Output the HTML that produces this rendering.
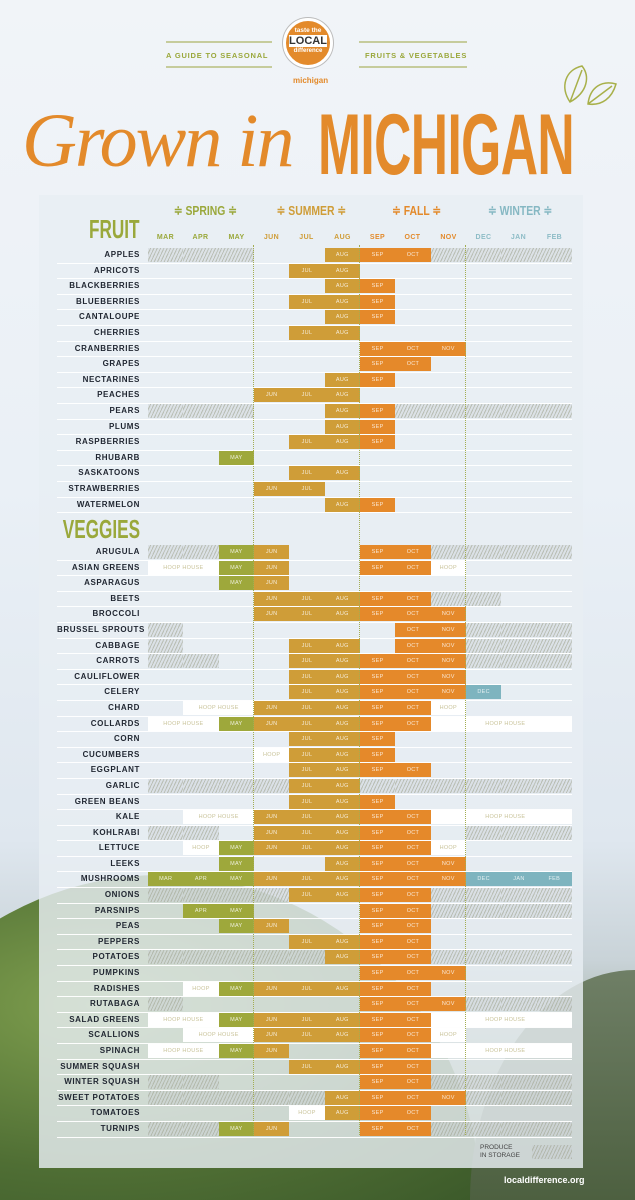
<!DOCTYPE html>
<html><head><meta charset="utf-8">
<style>
*{margin:0;padding:0;box-sizing:border-box}
html,body{width:635px;height:1200px;overflow:hidden}
#w{width:635px;height:1200px;overflow:hidden;position:relative;font-family:"Liberation Sans",sans-serif;
background:linear-gradient(180deg,#f1f4f8 0%,#eaf0f6 40%,#dfe7ef 70%,#c9d3d8 80%,#95a590 90%,#5f7a4f 100%);}
.leaf{position:absolute;left:-160px;top:875px;width:640px;height:325px;border-radius:50% 50% 0 0/100% 100% 0 0;background:radial-gradient(ellipse at 40% 40%,#7f9f4e,#4f6e34 60%,#3c5a2a);}
.hill{position:absolute;left:470px;top:970px;width:165px;height:230px;border-radius:100% 0 0 0;background:linear-gradient(#6f7f66,#4d6040);}
.panel{position:absolute;left:39px;top:195px;width:544px;height:973px;background:rgba(232,238,243,.82);}
.top{position:absolute;color:#9aa83b;font-weight:bold;font-size:7.5px;letter-spacing:.8px}
.hl{position:absolute;height:2px;background:#c6cc9c}
.logo{position:absolute;left:283px;top:18px;width:50px;height:50px;border-radius:50%;background:#e38a2b;border:3px solid #fff;box-shadow:0 0 0 1px #bbb;text-align:center;color:#fff;font-weight:bold}
.title1{position:absolute;left:22px;top:98px;font-family:"Liberation Serif",serif;font-style:italic;font-size:76px;color:#e38a2b;letter-spacing:-2px}
.title2{position:absolute;left:318px;top:102px;font-size:86px;font-weight:bold;color:#e38a2b;transform:scaleX(.6);transform-origin:left top;letter-spacing:-1px;line-height:1}
.sea{position:absolute;top:203px;font-weight:bold;font-size:13px;transform:scaleX(.8);transform-origin:center}
.mon{position:absolute;top:234px;font-weight:bold;font-size:7px;width:35px;text-align:center;letter-spacing:.4px}
.big{position:absolute;font-weight:bold;color:#9aa83b;font-size:26px;transform:scaleX(.66);transform-origin:right top;text-align:right}
.sec{position:absolute;left:57px;width:515px}
.r{display:grid;grid-template-columns:91px repeat(12,35.33px);grid-template-rows:14px;overflow:hidden;border-bottom:1.6px solid rgba(255,255,255,.95);height:15.6px;max-height:15.6px}
.r b{font-size:8px;color:#1f2530;text-align:right;padding-right:8px;letter-spacing:.6px;line-height:14px;white-space:nowrap}
.r i{font-style:normal;font-size:5.5px;color:rgba(255,255,255,.8);text-align:center;line-height:14px;letter-spacing:.3px;white-space:nowrap;overflow:hidden}
.p{background:#9ea83b}.u{background:#cf9d38}.f{background:#e5892a}.w{background:#7eb4bf}
.h{background:#fff;color:#c9c39a!important}
.hw{padding-right:28px}
.s{background:repeating-linear-gradient(115deg,rgba(200,205,210,.4) 0 2px,rgba(170,175,160,.75) 2px 3px)}
.dl{position:absolute;top:245px;height:890px;border-left:1.5px dotted #a3ad52}
</style></head><body><div id="w">
<div class="leaf"></div><div class="hill"></div>
<div class="panel"></div>

<div class="hl" style="left:166px;top:41px;width:106px"></div>
<div class="hl" style="left:166px;top:66px;width:106px"></div>
<div class="hl" style="left:359px;top:41px;width:108px"></div>
<div class="hl" style="left:359px;top:66px;width:108px"></div>
<div class="top" style="left:166px;top:51px">A GUIDE TO SEASONAL</div>
<div class="top" style="left:365px;top:51px">FRUITS &amp; VEGETABLES</div>
<div class="logo"><div style="font-size:6.5px;margin-top:6px">taste the</div><div style="font-size:11px;background:#fff;color:#333;margin:1px 3px">LOCAL</div><div style="font-size:6px">difference</div></div>
<div style="position:absolute;left:293px;top:76px;font-size:8px;font-weight:bold;color:#e38a2b">michigan</div>
<svg style="position:absolute;left:560px;top:62px" width="60" height="50" viewBox="0 0 60 50"><path d="M10 40 C0 25 5 8 22 4 C30 14 28 30 10 40Z M10 40 L22 8 M28 42 C30 25 42 18 56 22 C52 36 42 44 28 42Z M28 42 L52 24" fill="none" stroke="#a8b04a" stroke-width="1.5"/></svg>
<div class="title1">Grown in</div>
<div class="title2">MICHIGAN</div>

<div class="sea" style="left:166px;color:#9aa83b">≑ SPRING ≑</div>
<div class="sea" style="left:268px;color:#cf9d38">≑ SUMMER ≑</div>
<div class="sea" style="left:386px;color:#e38a2b">≑ FALL ≑</div>
<div class="sea" style="left:480px;color:#86b8c3">≑ WINTER ≑</div>
<div class="big" style="right:495px;top:214px">FRUIT</div>
<div class="big" style="right:495px;top:514px">VEGGIES</div>
<div class="mon" style="left:148px;color:#9aa83b">MAR</div><div class="mon" style="left:183px;color:#9aa83b">APR</div><div class="mon" style="left:219px;color:#9aa83b">MAY</div>
<div class="mon" style="left:254px;color:#cf9d38">JUN</div><div class="mon" style="left:289px;color:#cf9d38">JUL</div><div class="mon" style="left:325px;color:#cf9d38">AUG</div>
<div class="mon" style="left:360px;color:#e38a2b">SEP</div><div class="mon" style="left:395px;color:#e38a2b">OCT</div><div class="mon" style="left:431px;color:#e38a2b">NOV</div>
<div class="mon" style="left:466px;color:#8dbcc6">DEC</div><div class="mon" style="left:501px;color:#8dbcc6">JAN</div><div class="mon" style="left:537px;color:#8dbcc6">FEB</div>

<div class="sec" id="fr" style="top:248px">
<div class="r"><b>APPLES</b><i class=s></i><i class=s></i><i class=s></i><i></i><i></i><i class=u>AUG</i><i class=f>SEP</i><i class=f>OCT</i><i class=s></i><i class=s></i><i class=s></i><i class=s></i></div>
<div class="r"><b>APRICOTS</b><i></i><i></i><i></i><i></i><i class=u>JUL</i><i class=u>AUG</i></div>
<div class="r"><b>BLACKBERRIES</b><i></i><i></i><i></i><i></i><i></i><i class=u>AUG</i><i class=f>SEP</i></div>
<div class="r"><b>BLUEBERRIES</b><i></i><i></i><i></i><i></i><i class=u>JUL</i><i class=u>AUG</i><i class=f>SEP</i></div>
<div class="r"><b>CANTALOUPE</b><i></i><i></i><i></i><i></i><i></i><i class=u>AUG</i><i class=f>SEP</i></div>
<div class="r"><b>CHERRIES</b><i></i><i></i><i></i><i></i><i class=u>JUL</i><i class=u>AUG</i></div>
<div class="r"><b>CRANBERRIES</b><i></i><i></i><i></i><i></i><i></i><i></i><i class=f>SEP</i><i class=f>OCT</i><i class=f>NOV</i></div>
<div class="r"><b>GRAPES</b><i></i><i></i><i></i><i></i><i></i><i></i><i class=f>SEP</i><i class=f>OCT</i></div>
<div class="r"><b>NECTARINES</b><i></i><i></i><i></i><i></i><i></i><i class=u>AUG</i><i class=f>SEP</i></div>
<div class="r"><b>PEACHES</b><i></i><i></i><i></i><i class=u>JUN</i><i class=u>JUL</i><i class=u>AUG</i></div>
<div class="r"><b>PEARS</b><i class=s></i><i class=s></i><i class=s></i><i></i><i></i><i class=u>AUG</i><i class=f>SEP</i><i class=s></i><i class=s></i><i class=s></i><i class=s></i><i class=s></i></div>
<div class="r"><b>PLUMS</b><i></i><i></i><i></i><i></i><i></i><i class=u>AUG</i><i class=f>SEP</i></div>
<div class="r"><b>RASPBERRIES</b><i></i><i></i><i></i><i></i><i class=u>JUL</i><i class=u>AUG</i><i class=f>SEP</i></div>
<div class="r"><b>RHUBARB</b><i></i><i></i><i class=p>MAY</i></div>
<div class="r"><b>SASKATOONS</b><i></i><i></i><i></i><i></i><i class=u>JUL</i><i class=u>AUG</i></div>
<div class="r"><b>STRAWBERRIES</b><i></i><i></i><i></i><i class=u>JUN</i><i class=u>JUL</i></div>
<div class="r"><b>WATERMELON</b><i></i><i></i><i></i><i></i><i></i><i class=u>AUG</i><i class=f>SEP</i></div>
</div>

<div class="sec" id="vg" style="top:545px">
<div class="r"><b>ARUGULA</b><i class=s></i><i class=s></i><i class=p>MAY</i><i class=u>JUN</i><i></i><i></i><i class=f>SEP</i><i class=f>OCT</i><i class=s></i><i class=s></i><i class=s></i><i class=s></i></div>
<div class="r"><b>ASIAN GREENS</b><i class=h style="grid-column:span 2">HOOP HOUSE</i><i class=p>MAY</i><i class=u>JUN</i><i></i><i></i><i class=f>SEP</i><i class=f>OCT</i><i class=h>HOOP</i></div>
<div class="r"><b>ASPARAGUS</b><i></i><i></i><i class=p>MAY</i><i class=u>JUN</i></div>
<div class="r"><b>BEETS</b><i></i><i></i><i></i><i class=u>JUN</i><i class=u>JUL</i><i class=u>AUG</i><i class=f>SEP</i><i class=f>OCT</i><i class=s></i><i class=s></i></div>
<div class="r"><b>BROCCOLI</b><i></i><i></i><i></i><i class=u>JUN</i><i class=u>JUL</i><i class=u>AUG</i><i class=f>SEP</i><i class=f>OCT</i><i class=f>NOV</i></div>
<div class="r"><b>BRUSSEL SPROUTS</b><i class=s></i><i></i><i></i><i></i><i></i><i></i><i></i><i class=f>OCT</i><i class=f>NOV</i><i class=s></i><i class=s></i><i class=s></i></div>
<div class="r"><b>CABBAGE</b><i class=s></i><i></i><i></i><i></i><i class=u>JUL</i><i class=u>AUG</i><i></i><i class=f>OCT</i><i class=f>NOV</i><i class=s></i><i class=s></i><i class=s></i></div>
<div class="r"><b>CARROTS</b><i class=s></i><i class=s></i><i></i><i></i><i class=u>JUL</i><i class=u>AUG</i><i class=f>SEP</i><i class=f>OCT</i><i class=f>NOV</i><i class=s></i><i class=s></i><i class=s></i></div>
<div class="r"><b>CAULIFLOWER</b><i></i><i></i><i></i><i></i><i class=u>JUL</i><i class=u>AUG</i><i class=f>SEP</i><i class=f>OCT</i><i class=f>NOV</i></div>
<div class="r"><b>CELERY</b><i></i><i></i><i></i><i></i><i class=u>JUL</i><i class=u>AUG</i><i class=f>SEP</i><i class=f>OCT</i><i class=f>NOV</i><i class=w>DEC</i></div>
<div class="r"><b>CHARD</b><i></i><i class=h style="grid-column:span 2">HOOP HOUSE</i><i class=u>JUN</i><i class=u>JUL</i><i class=u>AUG</i><i class=f>SEP</i><i class=f>OCT</i><i class=h>HOOP</i></div>
<div class="r"><b>COLLARDS</b><i class=h style="grid-column:span 2">HOOP HOUSE</i><i class=p>MAY</i><i class=u>JUN</i><i class=u>JUL</i><i class=u>AUG</i><i class=f>SEP</i><i class=f>OCT</i><i class="h hw" style="grid-column:span 4;padding-left:36px">HOOP HOUSE</i></div>
<div class="r"><b>CORN</b><i></i><i></i><i></i><i></i><i class=u>JUL</i><i class=u>AUG</i><i class=f>SEP</i></div>
<div class="r"><b>CUCUMBERS</b><i></i><i></i><i></i><i class=h>HOOP</i><i class=u>JUL</i><i class=u>AUG</i><i class=f>SEP</i></div>
<div class="r"><b>EGGPLANT</b><i></i><i></i><i></i><i></i><i class=u>JUL</i><i class=u>AUG</i><i class=f>SEP</i><i class=f>OCT</i></div>
<div class="r"><b>GARLIC</b><i class=s></i><i class=s></i><i class=s></i><i class=s></i><i class=u>JUL</i><i class=u>AUG</i><i class=s></i><i class=s></i><i class=s></i><i class=s></i><i class=s></i><i class=s></i></div>
<div class="r"><b>GREEN BEANS</b><i></i><i></i><i></i><i></i><i class=u>JUL</i><i class=u>AUG</i><i class=f>SEP</i></div>
<div class="r"><b>KALE</b><i></i><i class=h style="grid-column:span 2">HOOP HOUSE</i><i class=u>JUN</i><i class=u>JUL</i><i class=u>AUG</i><i class=f>SEP</i><i class=f>OCT</i><i class="h hw" style="grid-column:span 4;padding-left:36px">HOOP HOUSE</i></div>
<div class="r"><b>KOHLRABI</b><i class=s></i><i class=s></i><i></i><i class=u>JUN</i><i class=u>JUL</i><i class=u>AUG</i><i class=f>SEP</i><i class=f>OCT</i><i></i><i class=s></i><i class=s></i><i class=s></i></div>
<div class="r"><b>LETTUCE</b><i></i><i class=h>HOOP</i><i class=p>MAY</i><i class=u>JUN</i><i class=u>JUL</i><i class=u>AUG</i><i class=f>SEP</i><i class=f>OCT</i><i class=h>HOOP</i></div>
<div class="r"><b>LEEKS</b><i></i><i></i><i class=p>MAY</i><i></i><i></i><i class=u>AUG</i><i class=f>SEP</i><i class=f>OCT</i><i class=f>NOV</i></div>
<div class="r"><b>MUSHROOMS</b><i class=p>MAR</i><i class=p>APR</i><i class=p>MAY</i><i class=u>JUN</i><i class=u>JUL</i><i class=u>AUG</i><i class=f>SEP</i><i class=f>OCT</i><i class=f>NOV</i><i class=w>DEC</i><i class=w>JAN</i><i class=w>FEB</i></div>
<div class="r"><b>ONIONS</b><i class=s></i><i class=s></i><i class=s></i><i class=s></i><i class=u>JUL</i><i class=u>AUG</i><i class=f>SEP</i><i class=f>OCT</i><i class=s></i><i class=s></i><i class=s></i><i class=s></i></div>
<div class="r"><b>PARSNIPS</b><i></i><i class=p>APR</i><i class=p>MAY</i><i></i><i></i><i></i><i class=f>SEP</i><i class=f>OCT</i><i class=s></i><i class=s></i><i class=s></i><i class=s></i></div>
<div class="r"><b>PEAS</b><i></i><i></i><i class=p>MAY</i><i class=u>JUN</i><i></i><i></i><i class=f>SEP</i><i class=f>OCT</i></div>
<div class="r"><b>PEPPERS</b><i></i><i></i><i></i><i></i><i class=u>JUL</i><i class=u>AUG</i><i class=f>SEP</i><i class=f>OCT</i></div>
<div class="r"><b>POTATOES</b><i class=s></i><i class=s></i><i class=s></i><i class=s></i><i class=s></i><i class=u>AUG</i><i class=f>SEP</i><i class=f>OCT</i><i class=s></i><i class=s></i><i class=s></i><i class=s></i></div>
<div class="r"><b>PUMPKINS</b><i></i><i></i><i></i><i></i><i></i><i></i><i class=f>SEP</i><i class=f>OCT</i><i class=f>NOV</i></div>
<div class="r"><b>RADISHES</b><i></i><i class=h>HOOP</i><i class=p>MAY</i><i class=u>JUN</i><i class=u>JUL</i><i class=u>AUG</i><i class=f>SEP</i><i class=f>OCT</i></div>
<div class="r"><b>RUTABAGA</b><i class=s></i><i></i><i></i><i></i><i></i><i></i><i class=f>SEP</i><i class=f>OCT</i><i class=f>NOV</i><i class=s></i><i class=s></i><i class=s></i></div>
<div class="r"><b>SALAD GREENS</b><i class=h style="grid-column:span 2">HOOP HOUSE</i><i class=p>MAY</i><i class=u>JUN</i><i class=u>JUL</i><i class=u>AUG</i><i class=f>SEP</i><i class=f>OCT</i><i class="h hw" style="grid-column:span 4;padding-left:36px">HOOP HOUSE</i></div>
<div class="r"><b>SCALLIONS</b><i></i><i class=h style="grid-column:span 2">HOOP HOUSE</i><i class=u>JUN</i><i class=u>JUL</i><i class=u>AUG</i><i class=f>SEP</i><i class=f>OCT</i><i class=h>HOOP</i></div>
<div class="r"><b>SPINACH</b><i class=h style="grid-column:span 2">HOOP HOUSE</i><i class=p>MAY</i><i class=u>JUN</i><i></i><i></i><i class=f>SEP</i><i class=f>OCT</i><i class="h hw" style="grid-column:span 4;padding-left:36px">HOOP HOUSE</i></div>
<div class="r"><b>SUMMER SQUASH</b><i></i><i></i><i></i><i></i><i class=u>JUL</i><i class=u>AUG</i><i class=f>SEP</i><i class=f>OCT</i></div>
<div class="r"><b>WINTER SQUASH</b><i class=s></i><i class=s></i><i></i><i></i><i></i><i></i><i class=f>SEP</i><i class=f>OCT</i><i class=s></i><i class=s></i><i class=s></i><i class=s></i></div>
<div class="r"><b>SWEET POTATOES</b><i class=s></i><i class=s></i><i class=s></i><i class=s></i><i class=s></i><i class=u>AUG</i><i class=f>SEP</i><i class=f>OCT</i><i class=f>NOV</i><i class=s></i><i class=s></i><i class=s></i></div>
<div class="r"><b>TOMATOES</b><i></i><i></i><i></i><i></i><i class=h>HOOP</i><i class=u>AUG</i><i class=f>SEP</i><i class=f>OCT</i></div>
<div class="r"><b>TURNIPS</b><i class=s></i><i class=s></i><i class=p>MAY</i><i class=u>JUN</i><i></i><i></i><i class=f>SEP</i><i class=f>OCT</i><i class=s></i><i class=s></i><i class=s></i><i class=s></i></div>
</div>

<div class="dl" style="left:253px"></div>
<div class="dl" style="left:359px"></div>
<div class="dl" style="left:465px"></div>

<div style="position:absolute;left:480px;top:1144px;font-size:6.5px;color:#444;line-height:8px">PRODUCE<br>IN STORAGE</div>
<div class="s" style="position:absolute;left:532px;top:1145px;width:40px;height:14px"></div>
<div style="position:absolute;left:504px;top:1175px;font-size:9px;font-weight:bold;color:#fff">localdifference.org</div>
</div></body></html>
